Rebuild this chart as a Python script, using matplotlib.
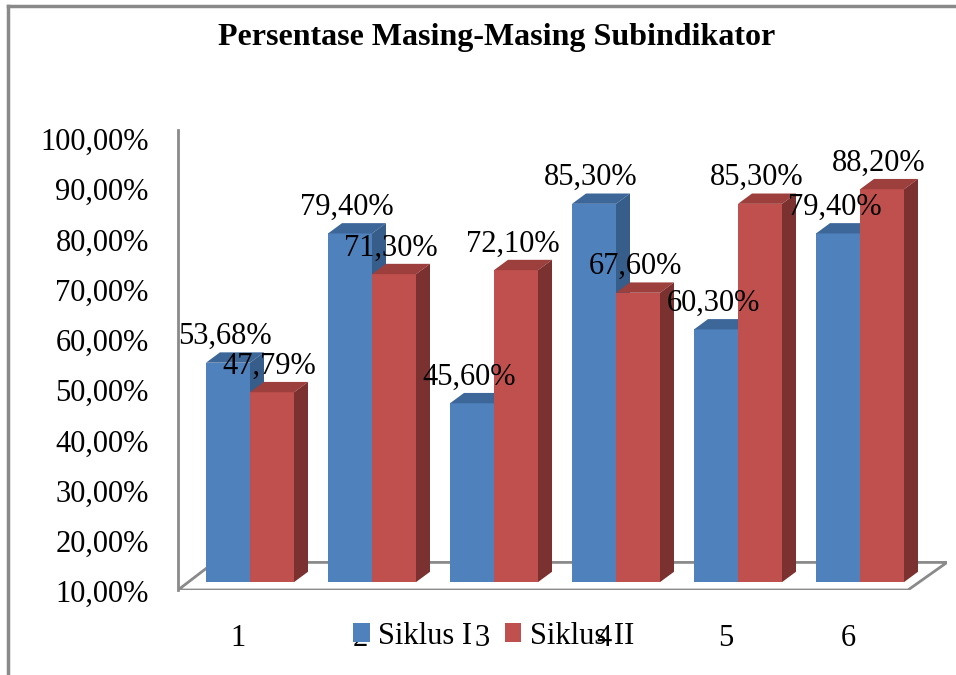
import numpy as np
import matplotlib.pyplot as plt
from matplotlib.patches import Polygon, Patch
from matplotlib.lines import Line2D
import matplotlib.transforms as mtransforms

# data
categories = ['1', '2', '3', '4', '5', '6']
siklus_1 = [53.68, 79.40, 45.60, 85.30, 60.30, 79.40]
siklus_2 = [47.79, 71.30, 72.10, 67.60, 85.30, 88.20]
series_names = ['Siklus I', 'Siklus II']
y_ticks = [10, 20, 30, 40, 50, 60, 70, 80, 90, 100]
title = 'Persentase Masing-Masing Subindikator'

plt.rcParams['font.family'] = ['Liberation Serif', 'DejaVu Serif']

front_cols = ['#4F81BD', '#C0504D']
top_cols = ['#3D6799', '#9D3F3C']
side_cols = ['#375D8A', '#7B3130']
grey = '#8A8A8A'

fig = plt.figure(figsize=(9.56, 6.75), dpi=100, facecolor='white')
ax = fig.add_axes([178 / 956, 1 - 590 / 675, (947 - 178) / 956, (590 - 130) / 675])

base = 10
ax.set_xlim(-72 / 122, 697 / 122)
ax.set_ylim(base + (582 - 590) / 5.1, base + (582 - 130) / 5.1)

width = 44 / 122
dx = 14 / 122      # depth offset in x (data units)
dy = 10.5 / 5.1    # depth offset in y (percent)

x = np.arange(len(categories))

# floor
floor = Polygon([(-72 / 122, base + (582 - 590) / 5.1), ((908 - 250) / 122, base + (582 - 590) / 5.1),
                 ((947 - 250) / 122, base + (582 - 562) / 5.1), ((214 - 250) / 122, base + (582 - 562) / 5.1)],
                closed=True, facecolor='white', edgecolor=grey, lw=2, zorder=1)
ax.add_patch(floor)

for i in range(len(categories)):
    for s, vals in enumerate([siklus_1, siklus_2]):
        v = vals[i]
        left = x[i] - width + s * width
        right = left + width
        z = 2 + i * 2 + s
        ax.bar(left, v - base, width=width, bottom=base, align='edge',
               color=front_cols[s], zorder=z, linewidth=0)
        top = Polygon([(left, v), (left + dx, v + dy), (right + dx, v + dy), (right, v)],
                      closed=True, facecolor=top_cols[s], edgecolor='none', zorder=z)
        side = Polygon([(right, base), (right, v), (right + dx, v + dy), (right + dx, base + dy)],
                       closed=True, facecolor=side_cols[s], edgecolor='none', zorder=z)
        ax.add_patch(top)
        ax.add_patch(side)
        ax.text(left + width / 2 - 0.025, v + 3.7, f'{v:.2f}'.replace('.', ',') + '%',
                ha='center', va='baseline', fontsize=22, zorder=20, clip_on=False)

# category labels under the floor
for i, c in enumerate(categories):
    ax.text(x[i] - 0.098, base + (582 - 647) / 5.1, c, ha='center', va='baseline',
            fontsize=22, clip_on=False, zorder=5)

# value axis
ax.set_yticks(y_ticks)
ax.set_yticklabels([f'{t:.2f}'.replace('.', ',') + '%' for t in y_ticks], fontsize=22)
ax.set_xticks([])
ax.tick_params(axis='y', length=0, pad=21)
off = mtransforms.ScaledTranslation(0, -9 / 100, fig.dpi_scale_trans)
for lab in ax.get_yticklabels():
    lab.set_transform(lab.get_transform() + off)
for sp in ['top', 'right', 'bottom']:
    ax.spines[sp].set_visible(False)
ax.spines['left'].set_color(grey)
ax.spines['left'].set_linewidth(2)
ax.patch.set_alpha(0)

# legend
handles = [Patch(facecolor=front_cols[0]), Patch(facecolor=front_cols[1])]
fig.legend(handles, series_names, loc='center left', bbox_to_anchor=(353 / 956, 1 - 636 / 675),
           ncol=2, frameon=False, fontsize=22, handlelength=0.55, handleheight=0.55,
           handletextpad=0.28, columnspacing=1.05, borderaxespad=0, borderpad=0)

fig.text(497 / 956, 1 - 38 / 675, title, ha='center', va='center', fontsize=23, fontweight='bold')

# chart frame
fig.add_artist(Line2D([8 / 956, 8 / 956], [0, 1 - 6 / 675], color=grey, lw=2.5))
fig.add_artist(Line2D([8 / 956, 1], [1 - 6 / 675, 1 - 6 / 675], color=grey, lw=2.5))

fig.savefig('out.png', dpi=100)
